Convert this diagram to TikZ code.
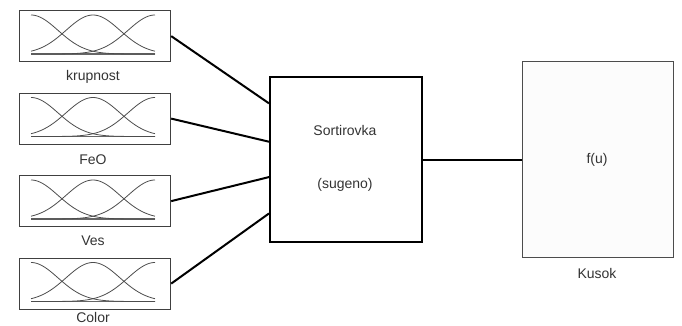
\documentclass[tikz,border=0pt]{standalone}
\usepackage{fontspec}
\setmainfont{Liberation Sans}
\usetikzlibrary{calc}
\begin{document}
\begin{tikzpicture}[x=1pt,y=-1pt,
  inbox/.style={draw=black!75,line width=1.2pt,minimum width=151pt,minimum height=51pt,inner sep=0pt,anchor=north west},
  sortbox/.style={draw=black,line width=1.8pt,minimum width=152pt,minimum height=165pt,inner sep=0pt,anchor=north west},
  outbox/.style={draw=black!70,line width=1pt,fill=black!1,minimum width=151pt,minimum height=196pt,inner sep=0pt,anchor=north west},
  lbl/.style={text=black!80,font=\fontsize{14}{16}\selectfont,inner sep=0pt},
  mf/.style={draw=black!70,line width=0.8pt},
  mfbase/.style={draw=black!60,line width=1.6pt},
  conn/.style={draw=black,line width=2pt}]
\useasboundingbox (0,0) rectangle (682,325);
\foreach \i/\yy/\ly/\name in {1/10/77/krupnost,2/92.5/159.5/FeO,3/175/241/Ves,4/257.5/317.5/Color}{
  \node[inbox] (in\i) at (19,\yy) {};
  \node[lbl] (lab\i) at (93,\ly) {\name};
  \begin{scope}[shift={(0,\yy)}]
    \draw[mfbase] (31,44) -- (155,44);
    \draw[mf] plot[domain=31:155,samples=70,smooth] (\x,{44-39*exp(-0.5*((\x-31)/27)^2)});
    \draw[mf] plot[domain=31:155,samples=70,smooth] (\x,{44-39*exp(-0.5*((\x-93)/27)^2)});
    \draw[mf] plot[domain=31:155,samples=70,smooth] (\x,{44-39*exp(-0.5*((\x-155)/27)^2)});
  \end{scope}
}
\node[sortbox] (sort) at (269,76) {};
\node[lbl] (t1) at (345,130) {Sortirovka};
\node[lbl] (t2) at (345,185) {(sugeno)};
\node[outbox] (out) at (522,61) {};
\node[lbl] (t3) at (597,160) {f(u)};
\node[lbl] (t4) at (597,273) {Kusok};
\draw[conn] (in1.east) -- ($(sort.north west)!0.164!(sort.south west)$);
\draw[conn] (in2.east) -- ($(sort.north west)!0.394!(sort.south west)$);
\draw[conn] (in3.east) -- ($(sort.north west)!0.606!(sort.south west)$);
\draw[conn] (in4.east) -- ($(sort.north west)!0.824!(sort.south west)$);
\draw[conn] (sort.east |- out.west) -- (out.west);
\end{tikzpicture}
\end{document}
